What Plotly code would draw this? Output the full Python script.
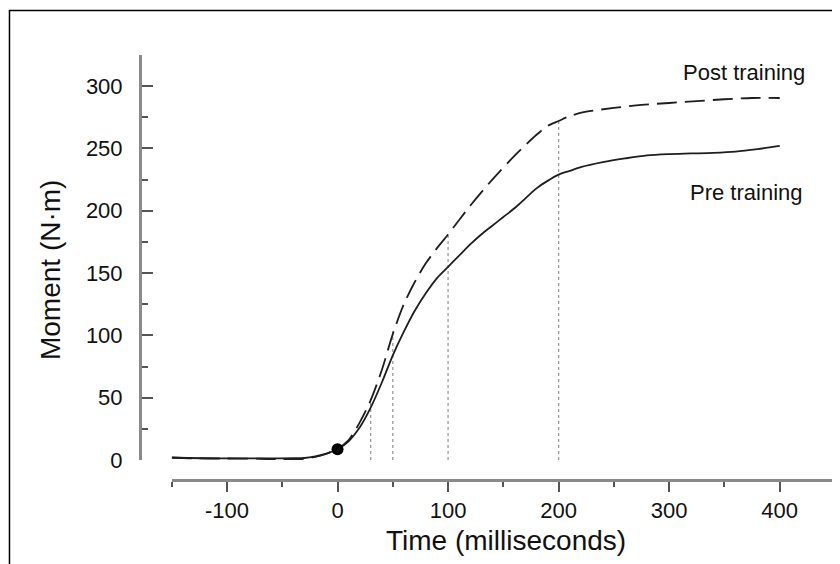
import plotly.graph_objects as go

# ---- data ----
time_pre = [-150, -120, -90, -60, -40, -30, -20, -10, 0, 10, 20, 30, 40, 50, 60, 70, 80, 90,
            100, 110, 120, 130, 140, 150, 160, 170, 180, 190, 200, 210, 220, 240, 260, 280,
            300, 320, 340, 360, 380, 400]
moment_pre = [1.8, 1.4, 1.3, 1.3, 1.4, 1.6, 3.0, 5.2, 8.6, 15, 26, 42, 62, 84, 103, 120, 134, 146,
              155, 164, 173, 181, 188, 195, 202, 210, 218, 224, 229, 232, 235, 239, 242, 244.5,
              245.5, 246, 246.5, 247.5, 249.5, 252]

time_post = [-150, -130, -100, -70, -50, -35, -20, -10, 0, 10, 20, 30, 40, 50, 60, 70, 80, 90,
             100, 120, 140, 160, 180, 190, 200, 210, 225, 250, 275, 300, 325, 350, 375, 400]
moment_post = [2.0, 1.3, 1.2, 1.0, 0.5, 0.6, 2.5, 5.0, 9.0, 16, 30, 48, 72, 101, 125, 143, 158, 170,
               181, 204, 225, 244, 261, 268, 272, 276, 279.5, 282.5, 285, 286.5, 288, 289.5, 290.5, 290.5]

marker_times = [30, 50, 100, 200]
marker_tops = [48, 104, 181, 272]

onset_time = [0]
onset_moment = [8.6]

x_ticks = [-100, 0, 100, 200, 300, 400]
y_ticks = [0, 50, 100, 150, 200, 250, 300]

FONT = "Liberation Sans, Arial, Helvetica, sans-serif"

fig = go.Figure()

for t, top in zip(marker_times, marker_tops):
    fig.add_trace(go.Scatter(x=[t, t], y=[0, top], mode="lines",
                             line=dict(color="#9a9a9a", width=1.3, dash="dot"),
                             hoverinfo="skip", showlegend=False))

fig.add_trace(go.Scatter(x=time_pre, y=moment_pre, mode="lines", name="Pre training",
                         line=dict(color="#1e1e1e", width=1.8, shape="spline", smoothing=0.8),
                         showlegend=False))
fig.add_trace(go.Scatter(x=time_post, y=moment_post, mode="lines", name="Post training",
                         line=dict(color="#1e1e1e", width=1.8, dash="20px,8px",
                                   shape="spline", smoothing=0.8),
                         showlegend=False))
fig.add_trace(go.Scatter(x=onset_time, y=onset_moment, mode="markers",
                         marker=dict(color="black", size=12), showlegend=False))

fig.update_layout(
    width=840, height=564, autosize=False,
    margin=dict(l=132, r=13, t=47, b=92),
    plot_bgcolor="white", paper_bgcolor="white",
    font=dict(family=FONT, color="#111111"),
    xaxis=dict(domain=[0.0456, 1], range=[-150, 450], anchor="free", position=0,
               showline=True, linecolor="#8a8a8a", linewidth=3,
               showgrid=False, zeroline=False,
               tickmode="array", tickvals=x_ticks, ticktext=[str(v) for v in x_ticks],
               ticks="outside", ticklen=10, tickwidth=2, tickcolor="#555555",
               tickfont=dict(size=22, family=FONT, color="#111111"),
               ticklabelstandoff=0,
               minor=dict(dtick=50, tick0=-150, ticks="outside", ticklen=5, tickwidth=2,
                          tickcolor="#555555")),
    yaxis=dict(domain=[20 / 425, 1], range=[0, 325], anchor="free", position=0,
               showline=True, linecolor="#8a8a8a", linewidth=3,
               showgrid=False, zeroline=False,
               tickmode="array", tickvals=y_ticks, ticktext=[str(v) for v in y_ticks],
               ticks="inside", ticklen=11, tickwidth=2, tickcolor="#555555",
               tickfont=dict(size=22, family=FONT, color="#111111"),
               ticklabelstandoff=12,
               minor=dict(dtick=25, tick0=0, ticks="inside", ticklen=6, tickwidth=2,
                          tickcolor="#555555")),
    annotations=[
        dict(text="Moment (N·m)", xref="paper", yref="paper", x=-0.1295, y=0.494,
             textangle=-90, showarrow=False, font=dict(size=28, family=FONT, color="#111111"),
             xanchor="center", yanchor="middle"),
        dict(text="Time (milliseconds)", xref="paper", yref="paper", x=0.5273, y=-0.1435,
             showarrow=False, font=dict(size=28, family=FONT, color="#111111"),
             xanchor="center", yanchor="middle"),
        dict(text="Post training", xref="x", yref="y", x=367.6, y=311,
             showarrow=False, font=dict(size=22, family=FONT, color="#111111"),
             xanchor="center", yanchor="middle"),
        dict(text="Pre training", xref="x", yref="y", x=369.5, y=214.5,
             showarrow=False, font=dict(size=22, family=FONT, color="#111111"),
             xanchor="center", yanchor="middle"),
    ],
    shapes=[
        dict(type="rect", xref="paper", yref="paper", x0=-0.1878, x1=1.0022,
             y0=-0.3, y1=1.1047, line=dict(color="black", width=1.5), layer="above"),
    ],
)

fig.write_html("out.html")
